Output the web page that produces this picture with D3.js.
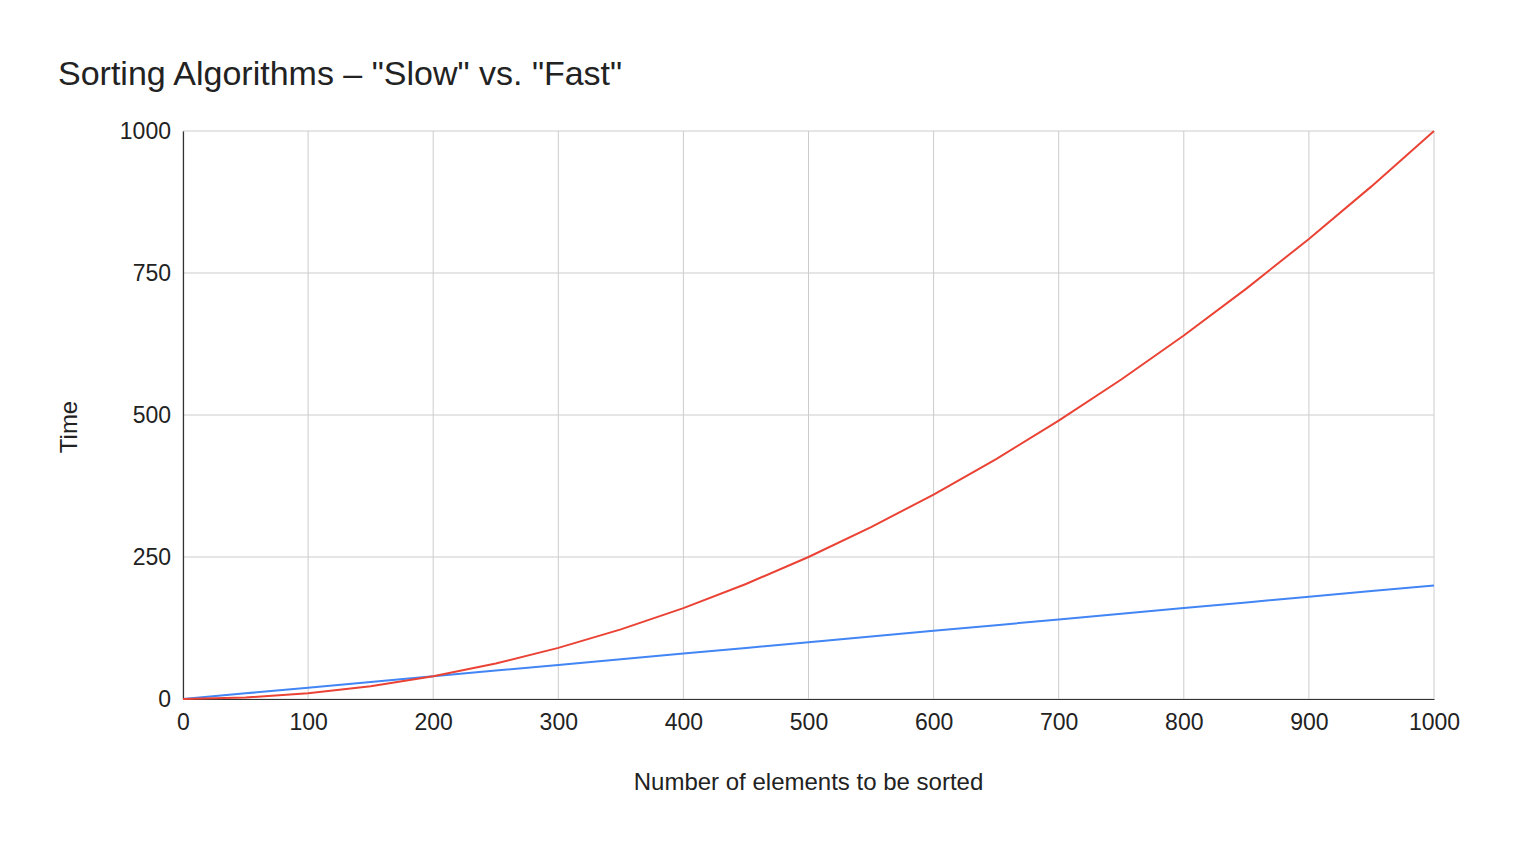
<!DOCTYPE html>
<html>
<head>
<meta charset="utf-8">
<script src="https://cdn.jsdelivr.net/npm/d3@7"></script>
<style>
  body { margin: 0; background: #fff; }
  text { font-family: "Liberation Sans", Arial, sans-serif; fill: #222; }
</style>
</head>
<body>
<div id="chart"></div>
<script>
// data, one point every 50 elements
var elements = [0, 50, 100, 150, 200, 250, 300, 350, 400, 450, 500,
                550, 600, 650, 700, 750, 800, 850, 900, 950, 1000];
var slowTimes = [0, 2.5, 10, 22.5, 40, 62.5, 90, 122.5, 160, 202.5, 250,
                 302.5, 360, 422.5, 490, 562.5, 640, 722.5, 810, 902.5, 1000];
var fastTimes = [0, 10, 20, 30, 40, 50, 60, 70, 80, 90, 100,
                 110, 120, 130, 140, 150, 160, 170, 180, 190, 200];
var xTicks = [0, 100, 200, 300, 400, 500, 600, 700, 800, 900, 1000];
var yTicks = [0, 250, 500, 750, 1000];

var width = 1520, height = 850;
var margin = {top: 131, right: 86, bottom: 151, left: 183};
var w = width - margin.left - margin.right;
var h = height - margin.top - margin.bottom;

var svg = d3.select("#chart")
  .append("svg")
    .attr("width", width)
    .attr("height", height);

// title
svg.append("text")
  .attr("x", 58)
  .attr("y", 85)
  .style("font-size", "34px")
  .text('Sorting Algorithms \u2013 "Slow" vs. "Fast"');

var g = svg.append("g")
  .attr("transform", "translate(" + margin.left + "," + margin.top + ")");

var x = d3.scaleLinear().domain([0, 1000]).range([0, w]);
var y = d3.scaleLinear().domain([0, 1000]).range([h, 0]);

// gridlines
g.append("g")
  .selectAll("line.v")
  .data(xTicks)
  .enter().append("line")
    .attr("x1", function(d) { return x(d); })
    .attr("x2", function(d) { return x(d); })
    .attr("y1", 0)
    .attr("y2", h)
    .attr("stroke", "#cccccc")
    .attr("stroke-width", 1);

g.append("g")
  .selectAll("line.h")
  .data(yTicks)
  .enter().append("line")
    .attr("x1", 0)
    .attr("x2", w)
    .attr("y1", function(d) { return y(d); })
    .attr("y2", function(d) { return y(d); })
    .attr("stroke", "#cccccc")
    .attr("stroke-width", 1);

// axes
var xAxis = g.append("g")
  .attr("transform", "translate(0," + h + ")")
  .call(d3.axisBottom(x).tickValues(xTicks).tickSize(0).tickPadding(15).tickFormat(d3.format("d")));
xAxis.select(".domain").attr("stroke", "#333").attr("stroke-width", 1.2);
xAxis.selectAll("text").style("font-size", "23px").attr("fill", "#222");

var yAxis = g.append("g")
  .call(d3.axisLeft(y).tickValues(yTicks).tickSize(0).tickPadding(12).tickFormat(d3.format("d")));
yAxis.select(".domain").attr("stroke", "#333").attr("stroke-width", 1.2);
yAxis.selectAll("text").style("font-size", "23px").attr("fill", "#222");

// axis titles
svg.append("text")
  .attr("x", margin.left + w / 2)
  .attr("y", 790)
  .attr("text-anchor", "middle")
  .style("font-size", "24px")
  .text("Number of elements to be sorted");

svg.append("text")
  .attr("transform", "translate(77,427) rotate(-90)")
  .attr("text-anchor", "middle")
  .style("font-size", "24px")
  .text("Time");

// lines
var line = d3.line()
  .x(function(d, i) { return x(elements[i]); })
  .y(function(d) { return y(d); });

g.append("path")
  .datum(fastTimes)
  .attr("fill", "none")
  .attr("stroke", "#4285f4")
  .attr("stroke-width", 2)
  .attr("d", line);

g.append("path")
  .datum(slowTimes)
  .attr("fill", "none")
  .attr("stroke", "#ea4335")
  .attr("stroke-width", 2)
  .attr("d", line);
</script>
</body>
</html>
